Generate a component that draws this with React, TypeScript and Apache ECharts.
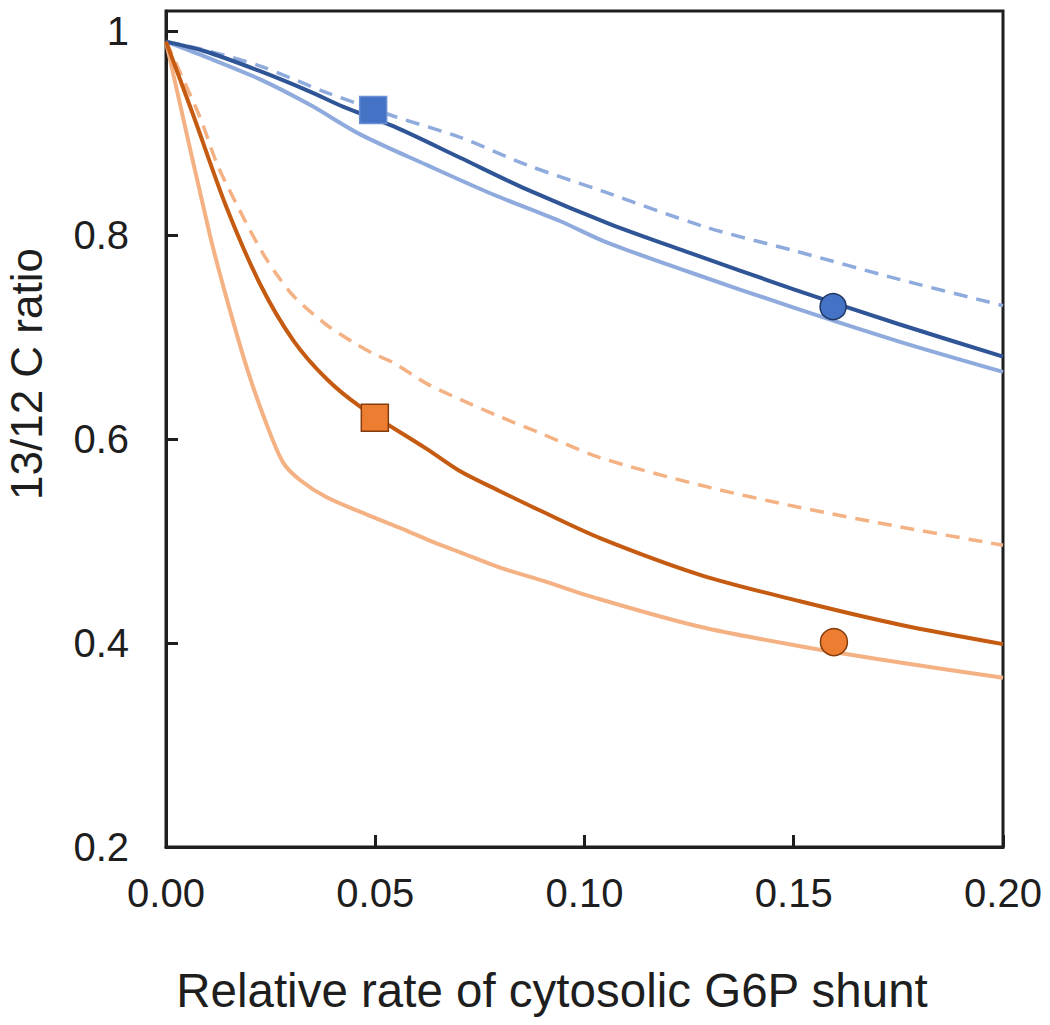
import React, { useEffect, useRef } from "react";
import * as echarts from "echarts";

const xTickValues = [0, 0.05, 0.1, 0.15, 0.2];
const yTickValues = [0.2, 0.4, 0.6, 0.8, 1.0];

const darkBlue = [[0,0.99],[0.0089,0.981],[0.0225,0.961],[0.0344,0.941],[0.0424,0.926],[0.0543,0.907],[0.0703,0.876],[0.0862,0.845],[0.1061,0.811],[0.125,0.783],[0.15,0.747],[0.175,0.713],[0.2,0.681]];
const lightBlue = [[0,0.99],[0.0089,0.976],[0.0225,0.953],[0.0344,0.928],[0.0464,0.899],[0.0623,0.869],[0.0782,0.84],[0.0941,0.814],[0.1053,0.793],[0.125,0.764],[0.15,0.729],[0.175,0.696],[0.2,0.666]];
const lightBlueDashed = [[0,0.99],[0.0089,0.982],[0.0225,0.966],[0.0384,0.94],[0.0543,0.917],[0.0703,0.896],[0.0862,0.869],[0.1045,0.843],[0.129,0.808],[0.15,0.785],[0.175,0.757],[0.2,0.731]];
const darkOrange = [[0,0.99],[0.0065,0.918],[0.0145,0.827],[0.0225,0.752],[0.0304,0.697],[0.0384,0.659],[0.0464,0.632],[0.0623,0.5905],[0.0703,0.5685],[0.0798,0.549],[0.0894,0.53],[0.1037,0.503],[0.1276,0.467],[0.1515,0.441],[0.1754,0.418],[0.2,0.399]];
const lightOrange = [[0,0.99],[0.0105,0.8],[0.0149,0.732],[0.0197,0.665],[0.0241,0.614],[0.028,0.577],[0.032,0.56],[0.0384,0.543],[0.048,0.526],[0.0559,0.513],[0.0639,0.499],[0.0703,0.489],[0.0798,0.474],[0.0894,0.462],[0.1037,0.443],[0.1276,0.416],[0.1515,0.397],[0.1754,0.381],[0.2,0.366]];
const lightOrangeDashed = [[0,0.99],[0.0081,0.916],[0.0123,0.869],[0.0178,0.823],[0.0229,0.784],[0.0269,0.759],[0.0308,0.739],[0.0384,0.712],[0.0448,0.695],[0.0495,0.684],[0.0543,0.675],[0.0623,0.6545],[0.0703,0.639],[0.0798,0.622],[0.0894,0.606],[0.1037,0.582],[0.1276,0.555],[0.1515,0.533],[0.1754,0.514],[0.2,0.496]];

const blueSquare = [[0.0495, 0.923]];
const blueCircle = [[0.1594, 0.73]];
const orangeSquare = [[0.0499, 0.621]];
const orangeCircle = [[0.1596, 0.401]];

const xAxisName = "Relative rate of cytosolic G6P shunt";
const yAxisName = "13/12 C ratio";

const FONT = "'Liberation Sans', Arial, sans-serif";
const TXT = "#1e1e1e";

export default function App() {
  const ref = useRef<HTMLDivElement>(null);
  useEffect(() => {
    if (!ref.current) return;
    const chart = echarts.init(ref.current, null, { renderer: "svg" });
    const line = (data: number[][], color: string, dashed: boolean, z: number) => ({
      type: "line",
      data,
      smooth: 0.3,
      showSymbol: false,
      symbol: "none",
      z,
      lineStyle: {
        color,
        width: dashed ? 3.5 : 4,
        type: dashed ? [14, 9] : "solid",
        cap: "butt",
      },
    });
    const marker = (data: number[][], symbol: string, size: number, color: string, border: string) => ({
      type: "scatter",
      data,
      symbol,
      symbolSize: size,
      z: 10,
      itemStyle: { color, borderColor: border, borderWidth: 1.5, opacity: 1 },
    });
    chart.setOption({
      animation: false,
      grid: {
        left: 166,
        right: 47,
        top: 11,
        bottom: 178,
        show: true,
        borderColor: "#1e1e1e",
        borderWidth: 3,
        backgroundColor: "transparent",
      },
      xAxis: {
        type: "value",
        min: 0,
        max: 0.2,
        interval: 0.05,
        axisLine: { show: true, lineStyle: { color: "#1e1e1e", width: 3 } },
        axisTick: { show: true, inside: true, length: 12, lineStyle: { color: "#1e1e1e", width: 3 } },
        splitLine: { show: false },
        axisLabel: {
          margin: 26,
          fontSize: 40,
          fontFamily: FONT,
          color: TXT,
          formatter: (v: number) => v.toFixed(2),
          customValues: xTickValues,
        },
      },
      yAxis: {
        type: "value",
        min: 0.2,
        max: 1.02,
        interval: 0.2,
        axisLine: { show: true, lineStyle: { color: "#1e1e1e", width: 3 } },
        axisTick: { show: true, inside: true, length: 12, lineStyle: { color: "#1e1e1e", width: 3 }, customValues: yTickValues },
        splitLine: { show: false },
        axisLabel: {
          margin: 37,
          fontSize: 40,
          fontFamily: FONT,
          color: TXT,
          customValues: yTickValues,
          formatter: (v: number) => (Math.abs(v - 1) < 1e-6 ? "1" : v.toFixed(1)),
        },
      },
      graphic: [
        {
          type: "text",
          x: 552,
          y: 990,
          style: {
            text: xAxisName,
            font: `47.5px ${FONT}`,
            fill: TXT,
            align: "center",
            verticalAlign: "middle",
          },
        },
        {
          type: "text",
          x: 26,
          y: 374,
          rotation: Math.PI / 2,
          style: {
            text: yAxisName,
            font: `44px ${FONT}`,
            fill: TXT,
            align: "center",
            verticalAlign: "middle",
          },
        },
      ],
      series: [
        line(lightBlueDashed, "#8FAADC", true, 2),
        line(lightBlue, "#8FAADC", false, 3),
        line(darkBlue, "#2F5597", false, 4),
        line(lightOrangeDashed, "#F4B183", true, 2),
        line(lightOrange, "#F4B183", false, 3),
        line(darkOrange, "#C55A11", false, 4),
        marker(blueSquare, "rect", 27, "#4472C4", "#6A8FD4"),
        marker(blueCircle, "circle", 26, "#4472C4", "#1F3864"),
        marker(orangeSquare, "rect", 27, "#ED7D31", "#843C0C"),
        marker(orangeCircle, "circle", 27, "#ED7D31", "#843C0C"),
      ],
    });
    return () => chart.dispose();
  }, []);
  return (
    <div
      ref={ref}
      style={{ position: "fixed", left: 0, top: 0, width: 1050, height: 1025, background: "#fff" }}
    />
  );
}
